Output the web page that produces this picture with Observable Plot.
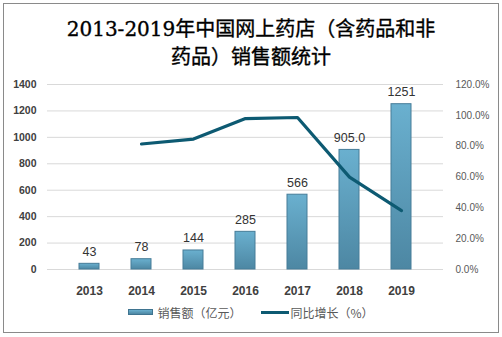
<!DOCTYPE html>
<html>
<head>
<meta charset="utf-8">
<script src="https://cdn.jsdelivr.net/npm/d3@7"></script>
<script src="https://cdn.jsdelivr.net/npm/@observablehq/plot@0.6"></script>
<style>
  html, body { margin: 0; padding: 0; background: #fff; }
  #wrap { position: relative; width: 502px; height: 337px; overflow: hidden; }
  #frame { position: absolute; left: 3px; top: 3px; width: 496px; height: 330px; box-sizing: border-box; border: 1px solid #8a8a8a; pointer-events: none; }
  #title { height: 75px; box-sizing: border-box; padding-top: 15px; text-align: center; font-family: "DejaVu Serif", "Noto Sans CJK SC", serif; font-size: 20px; line-height: 28px; color: #000; font-weight: normal; -webkit-text-stroke: 0.35px #000; }
  #chart svg { display: block; }
  #legend { height: 37px; display: flex; justify-content: center; align-items: flex-start; padding-top: 5px; box-sizing: border-box; font-family: "Noto Sans CJK SC", sans-serif; font-size: 12px; color: #595959; }
  .item { display: flex; align-items: center; height: 14px; }
  .sw-bar { width: 25px; height: 6px; background: linear-gradient(#6ab0cf, #4d87a3); border: 1px solid #3f7490; box-sizing: border-box; margin-right: 4px; }
  .sw-line { width: 28px; height: 3px; background: #0d5a72; margin-right: 1px; margin-left: 20px; }
</style>
</head>
<body>
<div id="wrap">
  <div id="frame"></div>
  <div id="title">2013-2019年中国网上药店（含药品和非<br>药品）销售额统计</div>
  <div id="chart"></div>
  <div id="legend">
    <div class="item"><div class="sw-bar"></div><span>销售额（亿元）</span></div>
    <div class="item"><div class="sw-line"></div><span>同比增长（%）</span></div>
  </div>
</div>
<script>
const years = ["2013", "2014", "2015", "2016", "2017", "2018", "2019"];
const sales = [43, 78, 144, 285, 566, 905, 1251];
const salesLabels = ["43", "78", "144", "285", "566", "905.0", "1251"];
const growthYears = ["2014", "2015", "2016", "2017", "2018", "2019"];
const growth = [81.4, 84.6, 97.9, 98.6, 59.9, 38.2];
const leftTicks = [0, 200, 400, 600, 800, 1000, 1200, 1400];
const pctTicks = [0, 20, 40, 60, 80, 100, 120];

const yMax = 1400, pMax = 120;
const k = yMax / pMax;

const barData = years.map((y, i) => ({year: y, value: sales[i], label: salesLabels[i]}));
const lineData = growthYears.map((y, i) => ({year: y, pct: growth[i]}));

const chart = Plot.plot({
  width: 502,
  height: 225,
  marginLeft: 47,
  marginRight: 59,
  marginTop: 9,
  marginBottom: 31,
  style: {fontFamily: "'Liberation Sans', Arial, sans-serif", background: "transparent"},
  x: {domain: years, padding: 0.61, label: null},
  y: {domain: [0, yMax], label: null},
  marks: [
    Plot.gridY(leftTicks, {stroke: "#d9d9d9", strokeOpacity: 1}),
    Plot.barY(barData, {x: "year", y: "value", fill: "url(#barGrad)", stroke: "#467c98", strokeWidth: 1}),
    Plot.text(barData, {x: "year", y: "value", text: "label", dy: -12, fill: "#333333", fontSize: 12.5}),
    Plot.line(lineData, {x: "year", y: d => d.pct * k, stroke: "#0d5a72", strokeWidth: 3.2}),
    Plot.axisY(leftTicks, {anchor: "left", tickSize: 0, tickPadding: 11, fontSize: 10.5, fontWeight: "bold", fill: "#404040", tickFormat: d => String(d), label: null}),
    Plot.axisY(pctTicks.map(p => p * k), {anchor: "right", tickSize: 0, tickPadding: 12, fontSize: 10, fill: "#595959", tickFormat: v => (v / k).toFixed(1) + "%", label: null}),
    Plot.axisX({tickSize: 0, tickPadding: 17, fontSize: 12, fontWeight: "bold", fill: "#404040", label: null})
  ]
});
const defs = '<defs><linearGradient id="barGrad" x1="0" y1="0" x2="0" y2="1"><stop offset="0%" stop-color="#6ab0cf"/><stop offset="100%" stop-color="#4d87a3"/></linearGradient></defs>';
chart.insertAdjacentHTML("afterbegin", defs);
document.getElementById("chart").appendChild(chart);
</script>
</body>
</html>
